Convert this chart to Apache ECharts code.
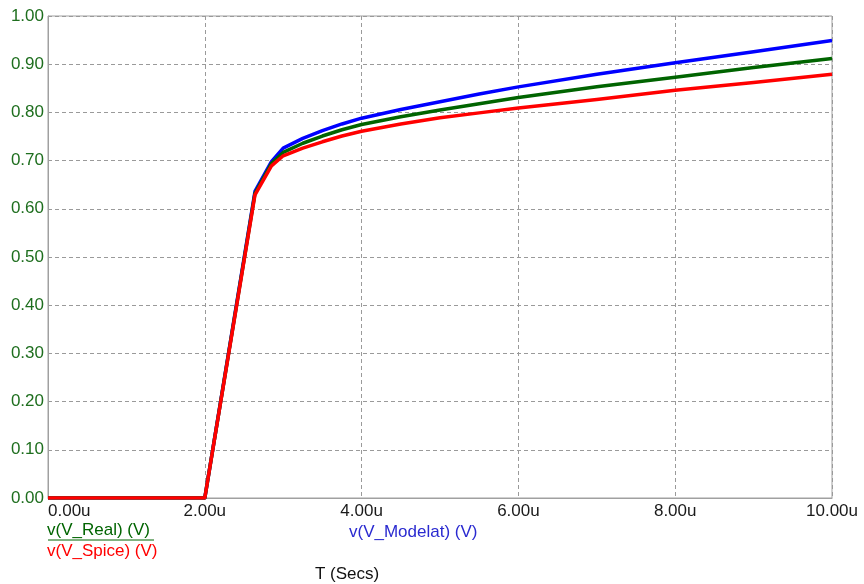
<!DOCTYPE html>
<html>
<head>
<meta charset="utf-8">
<script src="https://cdn.jsdelivr.net/npm/echarts@6/dist/echarts.min.js"></script>
<style>
html,body{margin:0;padding:0;background:#fff;}
#c{width:864px;height:584px;}
</style>
</head>
<body>
<div id="c"></div>
<script>
// time in microseconds
var timeUs =   [0, 2.0, 2.64, 2.85, 3.0, 3.25, 3.5, 3.75, 4.0, 4.5, 5.0, 5.5, 6.0, 7.0, 8.0, 9.0, 10.0];
var vModelat = [0, 0, 0.636, 0.698, 0.726, 0.746, 0.762, 0.776, 0.788, 0.806, 0.822, 0.838, 0.853, 0.879, 0.903, 0.926, 0.949];
var vReal =    [0, 0, 0.632, 0.694, 0.717, 0.736, 0.751, 0.764, 0.775, 0.791, 0.805, 0.818, 0.831, 0.853, 0.873, 0.893, 0.912];
var vSpice =   [0, 0, 0.629, 0.689, 0.710, 0.726, 0.739, 0.751, 0.761, 0.776, 0.789, 0.799, 0.809, 0.827, 0.846, 0.862, 0.879];
var xTicks = ['0.00u', '2.00u', '4.00u', '6.00u', '8.00u', '10.00u'];

function pairs(ys) { return timeUs.map(function (t, i) { return [t, ys[i]]; }); }

var FONT = '"Liberation Sans", Arial, sans-serif';
var GREEN = '#006400', BLUE = '#0000ff', RED = '#ff0000';

var chart = echarts.init(document.getElementById('c'));
chart.setOption({
  animation: false,
  backgroundColor: '#ffffff',
  grid: { left: 48, right: 32, top: 16, bottom: 86, show: true, borderColor: '#a0a0a0', borderWidth: 1, containLabel: false },
  xAxis: {
    type: 'value', min: 0, max: 10, interval: 2,
    axisLine: { show: true, lineStyle: { color: '#a0a0a0', width: 1 } },
    axisTick: { show: false },
    axisLabel: {
      color: '#1a1a1a', fontFamily: FONT, fontSize: 17, margin: 5,
      alignMinLabel: 'left',
      formatter: function (v) { return xTicks[Math.round(v / 2)]; }
    },
    splitLine: { show: true, lineStyle: { color: '#9a9a9a', type: [4, 3], width: 1 } }
  },
  yAxis: {
    type: 'value', min: 0, max: 1, interval: 0.1,
    axisLine: { show: true, lineStyle: { color: '#a0a0a0', width: 1 } },
    axisTick: { show: false },
    axisLabel: {
      color: '#1e6e1e', fontFamily: FONT, fontSize: 17, margin: 4,
      formatter: function (v) { return v.toFixed(2); }
    },
    splitLine: { show: true, lineStyle: { color: '#9a9a9a', type: [4, 3], width: 1 } }
  },
  series: [
    { name: 'v(V_Modelat) (V)', type: 'line', data: pairs(vModelat), showSymbol: false, smooth: false, lineStyle: { color: BLUE, width: 3.5, join: 'round' }, z: 2 },
    { name: 'v(V_Real) (V)', type: 'line', data: pairs(vReal), showSymbol: false, smooth: false, lineStyle: { color: GREEN, width: 3.5, join: 'round' }, z: 3 },
    { name: 'v(V_Spice) (V)', type: 'line', data: pairs(vSpice), showSymbol: false, smooth: false, lineStyle: { color: RED, width: 3.5, join: 'round' }, z: 4 }
  ],
  graphic: [
    { type: 'text', left: 47, top: 522, style: { text: 'v(V_Real) (V)', fill: GREEN, font: '17px ' + FONT } },
    { type: 'line', shape: { x1: 48, y1: 540, x2: 154, y2: 540 }, style: { stroke: GREEN, lineWidth: 1 } },
    { type: 'text', left: 47, top: 543, style: { text: 'v(V_Spice) (V)', fill: RED, font: '17px ' + FONT } },
    { type: 'text', left: 349, top: 524, style: { text: 'v(V_Modelat) (V)', fill: '#2a2ad0', font: '17px ' + FONT } },
    { type: 'text', left: 315, top: 566, style: { text: 'T (Secs)', fill: '#111111', font: '17px ' + FONT } }
  ]
});
</script>
</body>
</html>
